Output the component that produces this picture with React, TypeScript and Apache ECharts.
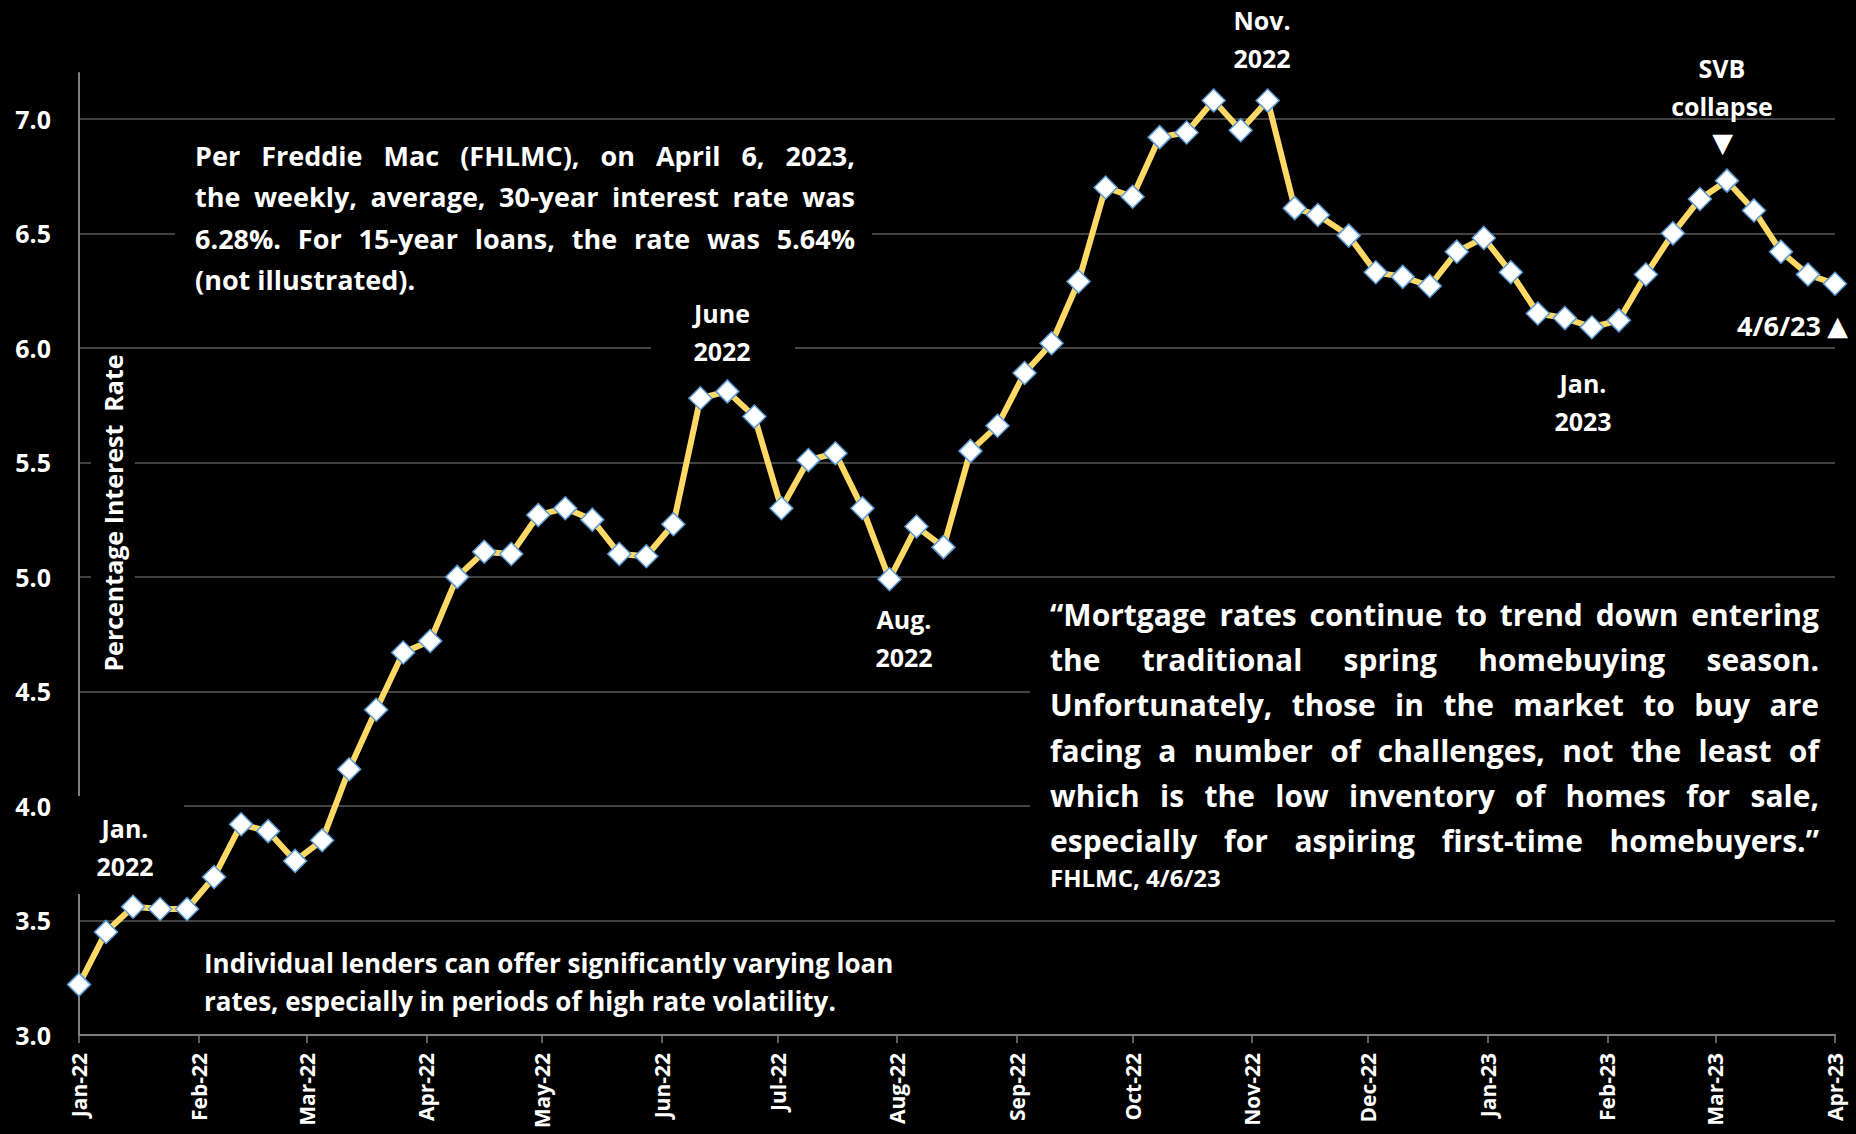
import { useEffect, useRef } from "react";
import * as echarts from "echarts";

// Freddie Mac PMMS weekly average 30-year fixed rate (%)
const weekDates = [
  "2022-01-06", "2022-01-13", "2022-01-20", "2022-01-27", "2022-02-03", "2022-02-10",
  "2022-02-17", "2022-02-24", "2022-03-03", "2022-03-10", "2022-03-17", "2022-03-24",
  "2022-03-31", "2022-04-07", "2022-04-14", "2022-04-21", "2022-04-28", "2022-05-05",
  "2022-05-12", "2022-05-19", "2022-05-26", "2022-06-02", "2022-06-09", "2022-06-16",
  "2022-06-23", "2022-06-30", "2022-07-07", "2022-07-14", "2022-07-21", "2022-07-28",
  "2022-08-04", "2022-08-11", "2022-08-18", "2022-08-25", "2022-09-01", "2022-09-08",
  "2022-09-15", "2022-09-22", "2022-09-29", "2022-10-06", "2022-10-13", "2022-10-20",
  "2022-10-27", "2022-11-03", "2022-11-10", "2022-11-17", "2022-11-23", "2022-12-01",
  "2022-12-08", "2022-12-15", "2022-12-22", "2022-12-29", "2023-01-05", "2023-01-12",
  "2023-01-19", "2023-01-26", "2023-02-02", "2023-02-09", "2023-02-16", "2023-02-23",
  "2023-03-02", "2023-03-09", "2023-03-16", "2023-03-23", "2023-03-30", "2023-04-06",
];

const rate30 = [
  3.22, 3.45, 3.56, 3.55, 3.55, 3.69,
  3.92, 3.89, 3.76, 3.85, 4.16, 4.42,
  4.67, 4.72, 5.0, 5.11, 5.1, 5.27,
  5.3, 5.25, 5.1, 5.09, 5.23, 5.78,
  5.81, 5.7, 5.3, 5.51, 5.54, 5.3,
  4.99, 5.22, 5.13, 5.55, 5.66, 5.89,
  6.02, 6.29, 6.7, 6.66, 6.92, 6.94,
  7.08, 6.95, 7.08, 6.61, 6.58, 6.49,
  6.33, 6.31, 6.27, 6.42, 6.48, 6.33,
  6.15, 6.13, 6.09, 6.12, 6.32, 6.5,
  6.65, 6.73, 6.6, 6.42, 6.32, 6.28,
];

// Monthly ticks run from the first observation date
const tickDates = [
  "2022-01-06", "2022-02-06", "2022-03-06", "2022-04-06", "2022-05-06", "2022-06-06",
  "2022-07-06", "2022-08-06", "2022-09-06", "2022-10-06", "2022-11-06", "2022-12-06",
  "2023-01-06", "2023-02-06", "2023-03-06", "2023-04-06",
];
const tickLabels = [
  "Jan-22", "Feb-22", "Mar-22", "Apr-22", "May-22", "Jun-22",
  "Jul-22", "Aug-22", "Sep-22", "Oct-22", "Nov-22", "Dec-22",
  "Jan-23", "Feb-23", "Mar-23", "Apr-23",
];

const yAxisTitle = "Percentage Interest  Rate";

const noteLines = [
  "Per Freddie Mac (FHLMC), on April 6, 2023,",
  "the weekly, average, 30-year interest rate was",
  "6.28%. For 15-year loans, the rate was 5.64%",
  "(not illustrated).",
];

const quoteLines = [
  "\u201CMortgage rates continue to trend down entering",
  "the traditional spring homebuying season.",
  "Unfortunately, those in the market to buy are",
  "facing a number of challenges, not the least of",
  "which is the low inventory of homes for sale,",
  "especially for aspiring first-time homebuyers.\u201D",
];
const quoteSource = "FHLMC, 4/6/23";

const lenderLines = [
  "Individual lenders can offer significantly varying loan",
  "rates, especially in periods of high rate volatility.",
];

const callouts = [
  { lines: ["Jan.", "2022"], cx: 125, base: 837 },
  { lines: ["June", "2022"], cx: 722, base: 322 },
  { lines: ["Aug.", "2022"], cx: 904, base: 628 },
  { lines: ["Nov.", "2022"], cx: 1262, base: 29 },
  { lines: ["SVB", "collapse"], cx: 1722, base: 77 },
  { lines: ["Jan.", "2023"], cx: 1583, base: 392 },
];

const FONT = "'Open Sans'";
const SYMBOL_FONT = "'DejaVu Sans'";
const WHITE = "#ffffff";

const toTime = (d: string) => {
  const [y, m, dd] = d.split("-").map(Number);
  return Date.UTC(y, m - 1, dd);
};

const measureCtx = document.createElement("canvas").getContext("2d") as CanvasRenderingContext2D;
function measure(s: string, font: string) {
  measureCtx.font = font;
  return measureCtx.measureText(s).width;
}

// text placed by its alphabetic baseline (svg renderer centres on dominant-baseline: central)
function textAt(
  x: number,
  baseline: number,
  s: string,
  size: number,
  align = "left",
  rotation = 0,
  family = FONT
) {
  return {
    type: "text",
    z: 20,
    x,
    y: baseline - size * 0.36,
    rotation,
    style: {
      text: s,
      fill: WHITE,
      font: `bold ${size}px ${family}`,
      align,
      verticalAlign: "middle",
    },
  };
}

function justified(
  lines: string[],
  left: number,
  right: number,
  base: number,
  lh: number,
  size: number,
  lastLeft: boolean
) {
  const font = `bold ${size}px ${FONT}`;
  const out: any[] = [];
  lines.forEach((line, li) => {
    const baseline = base + li * lh;
    if (lastLeft && li === lines.length - 1) {
      out.push(textAt(left, baseline, line, size));
      return;
    }
    const words = line.split(" ");
    const widths = words.map((w) => measure(w, font));
    const total = widths.reduce((a, b) => a + b, 0);
    const gap = words.length > 1 ? (right - left - total) / (words.length - 1) : 0;
    let x = left;
    words.forEach((w, i) => {
      out.push(textAt(x, baseline, w, size));
      x += widths[i] + gap;
    });
  });
  return out;
}

function cover(x: number, y: number, w: number, h: number) {
  return { type: "rect", z: 1, shape: { x, y, width: w, height: h }, style: { fill: "#000000" } };
}

export default function App() {
  const ref = useRef<HTMLDivElement>(null);

  useEffect(() => {
    if (!ref.current) return;
    const chart = echarts.init(ref.current, null, { renderer: "svg" });
    const tickTimes = tickDates.map(toTime);
    const data = weekDates.map((d, i) => [toTime(d), rate30[i]]);

    const graphics: any[] = [
      // black panels behind the annotation texts
      cover(175, 128, 697, 172),
      cover(651, 290, 144, 82),
      cover(91, 355, 44, 325),
      cover(68, 796, 116, 98),
      cover(1030, 590, 826, 310),
      ...justified(noteLines, 195, 855, 165, 41.5, 27, true),
      ...justified(quoteLines, 1050, 1819, 625, 45.3, 30, false),
      textAt(1050, 886, quoteSource, 24),
      ...lenderLines.map((l, i) => textAt(204, 972 + i * 38.5, l, 26)),
      textAt(113, 513 + 25 * 0.36, yAxisTitle, 25, "center", Math.PI / 2),
      textAt(1821, 335, "4/6/23", 27, "right"),
      textAt(1837.5, 335, "\u25B2", 27, "center", 0, SYMBOL_FONT),
      textAt(1722.5, 152, "\u25BC", 27, "center", 0, SYMBOL_FONT),
    ];
    callouts.forEach((c) => {
      c.lines.forEach((l, i) => graphics.push(textAt(c.cx, c.base + i * 38.3, l, 25, "center")));
    });

    chart.setOption({
      animation: false,
      backgroundColor: "#000000",
      grid: { left: 79, right: 21, top: 73, bottom: 99, containLabel: false },
      xAxis: {
        type: "value",
        min: tickTimes[0],
        max: tickTimes[tickTimes.length - 1],
        axisLine: { show: true, onZero: false, lineStyle: { color: "#7f7f7f", width: 2 } },
        axisTick: {
          show: true,
          customValues: tickTimes,
          length: 8,
          lineStyle: { color: "#7f7f7f", width: 1.5 },
        },
        axisLabel: {
          customValues: tickTimes,
          rotate: 90,
          margin: 18,
          color: WHITE,
          fontFamily: FONT,
          fontWeight: "bold",
          fontSize: 21,
          formatter: (v: number) => {
            const i = tickTimes.indexOf(v);
            return i >= 0 ? tickLabels[i] : "";
          },
        },
        splitLine: { show: false },
      },
      yAxis: {
        type: "value",
        min: 3,
        max: 7.2,
        interval: 0.5,
        axisLine: { show: true, lineStyle: { color: "#7f7f7f", width: 2 } },
        axisTick: { show: false },
        axisLabel: {
          margin: 28,
          color: WHITE,
          fontFamily: FONT,
          fontWeight: "bold",
          fontSize: 25,
          showMaxLabel: false,
          formatter: (v: number) => (Math.abs(v * 2 - Math.round(v * 2)) < 1e-6 ? v.toFixed(1) : ""),
        },
        splitLine: {
          show: true,
          showMaxLine: false,
          lineStyle: { color: "#595959", width: 1.5 },
        },
      },
      series: [
        {
          type: "line",
          data,
          showAllSymbol: true,
          symbol: "diamond",
          symbolSize: 23,
          lineStyle: { color: "#FFD966", width: 6 },
          itemStyle: { color: WHITE, borderColor: "#5B9BD5", borderWidth: 1.5 },
          z: 5,
        },
      ],
      graphic: { elements: graphics },
    });

    return () => chart.dispose();
  }, []);

  return (
    <div
      ref={ref}
      style={{ position: "fixed", left: 0, top: 0, width: 1856, height: 1134, background: "#000" }}
    />
  );
}
